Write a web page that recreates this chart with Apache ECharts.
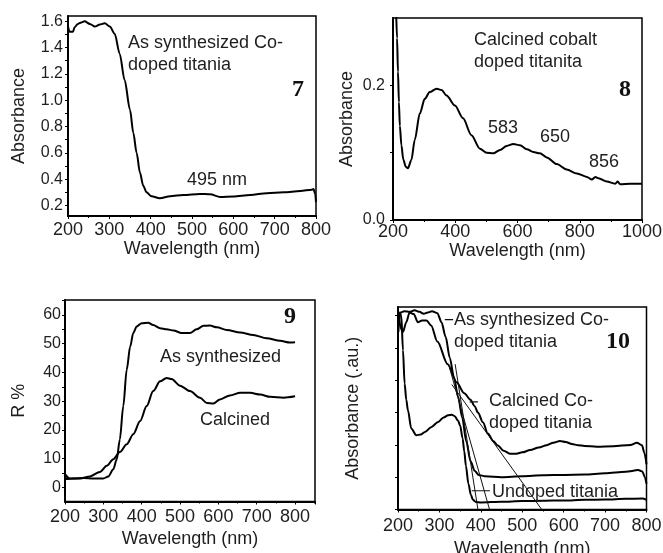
<!DOCTYPE html>
<html><head><meta charset="utf-8">
<script src="https://cdn.jsdelivr.net/npm/echarts@6/dist/echarts.min.js"></script>
<style>html,body{margin:0;padding:0;background:#fff}#c{width:663px;height:553px}</style>
</head><body><div id="c"></div>
<script>
// ---------- Panel 7: as synthesized Co-doped titania ----------
const wl7  = [200,204,212,216,224,232,240,253,265,277,289,301,313,325,337,350,358,366,374,382,390,402,422,447,479,519,544,568,600,641,681,722,762,790,794,798,800];
const abs7 = [1.56,1.52,1.52,1.555,1.58,1.59,1.6,1.58,1.56,1.575,1.585,1.56,1.505,1.354,1.153,0.927,0.752,0.6,0.45,0.35,0.30,0.27,0.255,0.27,0.28,0.288,0.285,0.265,0.268,0.28,0.293,0.3,0.31,0.32,0.325,0.288,0.225];
const yLabels7 = [0.2,0.4,0.6,0.8,1.0,1.2,1.4,1.6];
const yTicks7  = [0.2,0.3,0.4,0.5,0.6,0.7,0.8,0.9,1.0,1.1,1.2,1.3,1.4,1.5,1.6];

// ---------- Panel 8: calcined cobalt doped titania ----------
const wl8  = [210,213,216,219,222,227,233,241,248,259,270,286,302,318,340,356,372,399,425,452,479,501,522,544,565,587,608,630,651,672,694,726,758,791,823,839,850,860,887,914,922,930,962,1000];
const abs8 = [0.31,0.27,0.22,0.175,0.14,0.111,0.09,0.079,0.077,0.089,0.119,0.158,0.18,0.19,0.195,0.193,0.185,0.17,0.151,0.126,0.106,0.1,0.099,0.104,0.11,0.113,0.111,0.105,0.101,0.099,0.093,0.083,0.075,0.069,0.064,0.06,0.064,0.062,0.057,0.054,0.057,0.053,0.054,0.054];
const yLabels8 = [0.0,0.2];
const yTicks8  = [0.0,0.1,0.2];

// ---------- Panel 9: reflectance ----------
const wl9a = [200,204,222,248,274,300,313,326,335,343,352,361,370,378,387,400,417,430,448,465,483,504,526,543,561,578,596,622,657,691,726,761,787,800];
const r9a  = [4.0,2.9,3.1,3.3,3.1,3.1,3.8,6.3,9.8,16.7,28.3,41,49,53.7,56,57.1,57.3,56.5,55.4,55.0,54.6,53.7,53.7,55,56.2,56.3,55.7,54.8,53.9,53,51.9,51,50.4,50.5];
const wl9b = [200,213,239,265,291,309,326,343,361,378,396,413,430,448,465,478,500,526,552,570,587,604,630,657,683,709,735,770,800];
const r9b  = [4.6,3.1,3.1,3.8,5.4,7.5,9.8,12.3,15,18.5,23.1,28.3,33.5,36.9,38.1,37.7,35.4,33.5,31.2,29.4,29.2,30.6,32,32.9,32.9,32.3,31.5,31.2,31.7];
const yLabels9 = [0,10,20,30,40,50,60];
const yTicks9  = [0,5,10,15,20,25,30,35,40,45,50,55,60,65];

// ---------- Panel 10: comparison (arbitrary units) ----------
const wl10as  = [201,206,215,228,240,252,262,272,282,295,305,315,325,335,345,355,365,375,385,395,410,450,500,550,600,650,700,750,780,790,796,800];
const abs10as = [5.7,6.1,6.14,6.12,6.17,6.12,6.06,6.1,6.14,6.08,5.8,5.35,4.7,4.1,3.5,2.85,2.1,1.5,1.2,1.07,1.03,1.0,1.03,1.06,1.07,1.08,1.12,1.17,1.22,1.18,1.0,0.8];
const wl10ca  = [202,207,212,220,228,238,248,258,269,280,295,320,341,360,375,385,393,405,417,430,441,455,470,486,500,519,540,559,575,591,605,620,635,650,680,720,761,777,789,795,800];
const abs10ca = [6.0,5.6,5.5,5.8,6.1,6.05,5.8,5.85,5.85,5.7,5.2,4.5,3.95,3.6,3.4,3.2,3.0,2.7,2.35,2.12,1.98,1.82,1.73,1.73,1.77,1.84,1.92,1.99,2.07,2.12,2.09,2.03,1.99,1.97,1.94,1.96,2.0,2.07,1.99,1.75,1.4];
const wl10un  = [201,204,208,212,216,220,224,232,244,255,265,280,297,310,321,330,337,345,350,356,360,364,370,376,381,388,400,450,500,550,600,650,700,750,790,800];
const abs10un = [5.5,6.1,6.0,4.93,3.9,3.4,3.07,2.51,2.3,2.32,2.4,2.55,2.71,2.85,2.92,2.93,2.89,2.75,2.6,2.2,1.8,1.35,0.8,0.45,0.3,0.23,0.22,0.24,0.26,0.27,0.28,0.3,0.31,0.33,0.34,0.3];
const tanA10 = [[338,4.5],[393,0]];
const tanB10 = [[322,4.5],[421,0]];
const tanC10 = [[330,3.87],[547,0]];
const lead10as = [[313,5.88],[333,5.88]];
const lead10ca = [[373,3.33],[393,3.33]];
const lead10un = [[378,0.58],[422,0.58]];
const y10ticks = [0,1,2,3,4,5,6];

const FONT = 'Liberation Sans, Arial, Helvetica, sans-serif';
const TXT = '#1e1e1e';
const pairs = (xs, ys) => xs.map((x, i) => [x, ys[i]]);

function grid(left, top, width, height) {
  return {left, top, width, height, show: true, borderColor: '#000', borderWidth: 1.5,
          containLabel: false, outerBoundsMode: 'none'};
}
function xAx(gi, min, max, interval, margin, nameGap) {
  return {
    gridIndex: gi, type: 'value', min, max, interval,
    name: 'Wavelength (nm)', nameLocation: 'middle', nameGap,
    nameTextStyle: {fontFamily: FONT, fontSize: 18, color: TXT},
    axisLine: {show: true, onZero: false, lineStyle: {color: '#000', width: 2}},
    axisTick: {show: true, length: 3, lineStyle: {color: '#000', width: 1}},
    minorTick: {show: true, splitNumber: 2, length: 2, lineStyle: {color: '#000'}},
    splitLine: {show: false}, minorSplitLine: {show: false},
    axisLabel: {fontFamily: FONT, fontSize: 18, color: TXT, margin,
      formatter: v => (Math.abs(v % 100) < 1e-6 ? String(v) : '')}
  };
}
function yAx(gi, min, max, name, nameGap, labels, ticks, margin, digits, showLabels) {
  return {
    gridIndex: gi, type: 'value', min, max,
    name, nameLocation: 'middle', nameGap, nameRotate: 90,
    nameTextStyle: {fontFamily: FONT, fontSize: 18, color: TXT},
    axisLine: {show: true, onZero: false, lineStyle: {color: '#000', width: 2}},
    axisTick: {show: true, length: 3, customValues: ticks, lineStyle: {color: '#000', width: 1}},
    splitLine: {show: false},
    axisLabel: {show: showLabels, fontFamily: FONT, fontSize: 16, color: TXT, margin,
      customValues: labels, formatter: v => Number(v).toFixed(digits)}
  };
}
function line(xi, data, width) {
  return {type: 'line', xAxisIndex: xi, yAxisIndex: xi, data, symbol: 'none',
    smooth: 0.3, smoothMonotone: 'x', clip: true, silent: true,
    lineStyle: {color: '#000', width: width || 2}};
}
function straight(xi, data, width) {
  return {type: 'line', xAxisIndex: xi, yAxisIndex: xi, data, symbol: 'none',
    smooth: false, clip: true, silent: true, lineStyle: {color: '#111', width: width || 1}};
}
function txt(x, y, text, align, size, bold, serif) {
  return {type: 'text', x, y, z: 100, style: {text, x: 0, y: 0,
    fontFamily: serif ? 'Liberation Serif, Times New Roman, serif' : FONT,
    fontSize: size || 18, fontWeight: bold ? 'bold' : 'normal',
    fill: serif ? '#111' : TXT, align: align || 'left', verticalAlign: 'middle'}};
}

const option = {
  backgroundColor: '#fff',
  animation: false,
  grid: [grid(68, 16, 248, 200), grid(393, 18, 249, 202), grid(65, 300, 250, 201.5), grid(398, 307, 248.5, 202.5)],
  xAxis: [
    xAx(0, 200, 800, 100, 5, 21),
    xAx(1, 200, 1000, 200, 3, 17),
    xAx(2, 200, 852, 100, 7, 29),
    xAx(3, 200, 800, 100, 8, 31)
  ],
  yAxis: [
    yAx(0, 0.12, 1.64, 'Absorbance', 40, yLabels7, yTicks7, 5, 1, true),
    yAx(1, 0, 0.3, 'Absorbance', 37, yLabels8, yTicks8, 8, 1, true),
    yAx(2, -4.9, 65.2, 'R %', 37, yLabels9, yTicks9, 4, 0, true),
    yAx(3, 0, 6.27, 'Absorbance (.au.)', 36, [], y10ticks, 4, 0, false)
  ],
  series: [
    line(0, pairs(wl7, abs7)),
    line(1, pairs(wl8, abs8)),
    line(2, pairs(wl9a, r9a)),
    line(2, pairs(wl9b, r9b)),
    line(3, pairs(wl10as, abs10as)),
    line(3, pairs(wl10ca, abs10ca)),
    line(3, pairs(wl10un, abs10un)),
    straight(3, tanA10), straight(3, tanB10), straight(3, tanC10),
    straight(3, lead10as, 1.2), straight(3, lead10ca, 1.2), straight(3, lead10un, 1.2)
  ],
  graphic: [
    txt(128, 43, 'As synthesized Co-'),
    txt(128, 65, 'doped titania'),
    txt(298, 90, '7', 'center', 24, true, true),
    txt(217, 180, '495 nm', 'center'),
    txt(474, 40, 'Calcined cobalt'),
    txt(474, 62, 'doped titanita'),
    txt(625, 90, '8', 'center', 24, true, true),
    txt(503, 128, '583', 'center'),
    txt(555, 137, '650', 'center'),
    txt(604, 162, '856', 'center'),
    txt(290, 317, '9', 'center', 24, true, true),
    txt(160, 357, 'As synthesized'),
    txt(200, 420, 'Calcined'),
    txt(454, 320, 'As synthesized Co-'),
    txt(454, 342, 'doped titania'),
    txt(618, 342, '10', 'center', 24, true, true),
    txt(489, 401, 'Calcined Co-'),
    txt(489, 423, 'doped titania'),
    txt(492, 492, 'Undoped titania')
  ]
};
const chart = echarts.init(document.getElementById('c'), null, {renderer: 'canvas'});
chart.setOption(option);
</script></body></html>
